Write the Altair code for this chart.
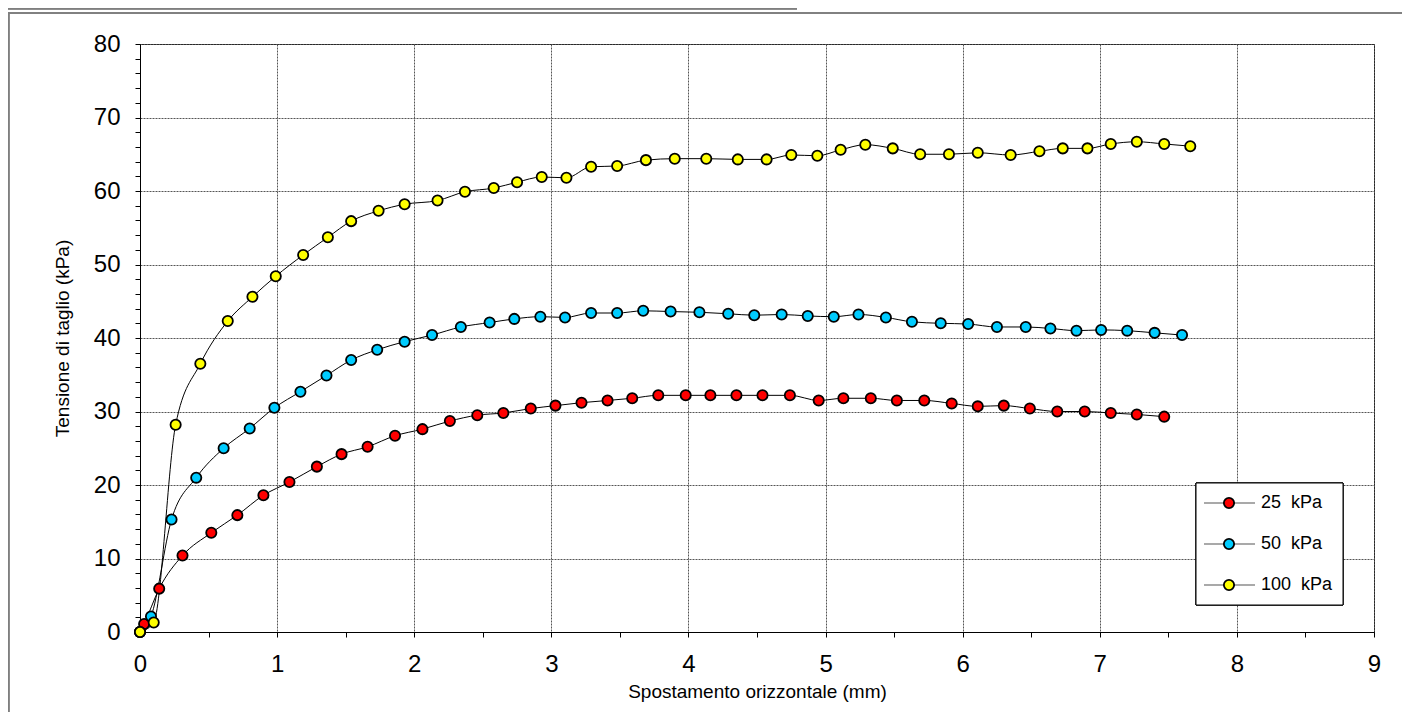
import altair as alt
import pandas as pd

# ---- data ----
series_names = ["25\u00a0 kPa", "50\u00a0 kPa", "100\u00a0 kPa"]
series_colors = ["#FF0000", "#00CCFF", "#FFFF00"]

x25 = [0.0, 0.03, 0.14, 0.31, 0.52, 0.71, 0.90, 1.09, 1.29, 1.47, 1.66, 1.86, 2.06, 2.26,
       2.46, 2.65, 2.85, 3.03, 3.22, 3.41, 3.59, 3.78, 3.98, 4.16, 4.35, 4.54, 4.74, 4.95,
       5.13, 5.33, 5.52, 5.72, 5.92, 6.11, 6.30, 6.49, 6.69, 6.89, 7.08, 7.27, 7.47]
y25 = [0.0, 1.1, 5.9, 10.4, 13.5, 15.9, 18.6, 20.4, 22.5, 24.2, 25.2, 26.7, 27.6, 28.7,
       29.5, 29.8, 30.4, 30.8, 31.2, 31.5, 31.8, 32.2, 32.2, 32.2, 32.2, 32.2, 32.2, 31.5,
       31.8, 31.8, 31.5, 31.5, 31.1, 30.7, 30.8, 30.4, 30.0, 30.0, 29.8, 29.6, 29.3]

x50 = [0.0, 0.08, 0.23, 0.41, 0.61, 0.80, 0.98, 1.17, 1.36, 1.54, 1.73, 1.93, 2.13, 2.34,
       2.55, 2.73, 2.92, 3.10, 3.29, 3.48, 3.67, 3.87, 4.08, 4.29, 4.48, 4.68, 4.87, 5.06,
       5.24, 5.44, 5.63, 5.84, 6.04, 6.25, 6.46, 6.64, 6.83, 7.01, 7.20, 7.40, 7.60]
y50 = [0.0, 2.1, 15.3, 21.0, 25.0, 27.7, 30.5, 32.7, 34.9, 37.0, 38.4, 39.5, 40.4, 41.5,
       42.1, 42.6, 42.9, 42.8, 43.4, 43.4, 43.7, 43.6, 43.5, 43.3, 43.1, 43.2, 43.0, 42.9,
       43.2, 42.8, 42.2, 42.0, 41.9, 41.5, 41.5, 41.3, 41.0, 41.1, 41.0, 40.7, 40.4]

x100 = [0.0, 0.10, 0.26, 0.44, 0.64, 0.82, 0.99, 1.19, 1.37, 1.54, 1.74, 1.93, 2.17, 2.37,
        2.58, 2.75, 2.93, 3.11, 3.29, 3.48, 3.69, 3.90, 4.13, 4.36, 4.57, 4.75, 4.94, 5.11,
        5.29, 5.49, 5.69, 5.90, 6.11, 6.35, 6.56, 6.73, 6.91, 7.08, 7.27, 7.47, 7.66]
y100 = [0.0, 1.3, 28.2, 36.5, 42.3, 45.6, 48.4, 51.3, 53.7, 55.9, 57.3, 58.2, 58.7, 59.9,
        60.4, 61.2, 61.9, 61.8, 63.3, 63.4, 64.2, 64.4, 64.4, 64.3, 64.3, 64.9, 64.8, 65.6,
        66.3, 65.8, 65.0, 65.0, 65.2, 64.9, 65.4, 65.8, 65.8, 66.4, 66.7, 66.4, 66.1]

x_ticks = [i * 0.5 for i in range(19)]
y_ticks = list(range(0, 81, 2))

x_title = "Spostamento orizzontale (mm)"
y_title = "Tensione di taglio (kPa)"

FONT = "Liberation Sans"

rows = []
for name, xs, ys in zip(series_names, [x25, x50, x100], [y25, y50, y100]):
    for i, (a, b) in enumerate(zip(xs, ys)):
        rows.append({"series": name, "x": a, "y": b, "idx": i})
df = pd.DataFrame(rows)

fill_scale = alt.Scale(domain=series_names, range=series_colors)

x_enc = alt.X(
    "x:Q",
    scale=alt.Scale(domain=[0, 9], nice=False, zero=False),
    axis=alt.Axis(
        values=x_ticks,
        labelExpr="datum.value % 1 === 0 ? '' + datum.value : ''",
        labelFlush=False,
        gridOpacity={"condition": {"test": "datum.value % 1 === 0", "value": 1}, "value": 0},
        title=x_title,
    ),
)
y_enc = alt.Y(
    "y:Q",
    scale=alt.Scale(domain=[0, 80], nice=False),
    axis=alt.Axis(
        values=y_ticks,
        labelExpr="datum.value % 10 === 0 ? '' + datum.value : ''",
        labelFlush=False,
        gridOpacity={"condition": {"test": "datum.value % 10 === 0", "value": 1}, "value": 0},
        title=y_title,
    ),
)

base = alt.Chart(df)
lines = base.mark_line(interpolate="monotone", color="black", strokeWidth=1).encode(
    x=x_enc, y=y_enc, detail="series:N", order="idx:Q"
)
points = base.mark_point(filled=True, shape="circle", size=105, stroke="black",
                         strokeWidth=1.8, opacity=1).encode(
    x=x_enc, y=y_enc,
    fill=alt.Fill("series:N", scale=fill_scale, legend=None),
)
main = alt.layer(lines, points)

# ---- legend (custom, Excel style) ----
legend_df = pd.DataFrame({"series": series_names})
leg_y = alt.Y("series:N", sort=series_names,
              scale=alt.Scale(type="point", range=[459, 541], padding=0), axis=None)
lbase = alt.Chart(legend_df)
leg_box = lbase.mark_rect(fill="white", stroke="black", strokeWidth=1).encode(
    x=alt.value(1056), x2=alt.value(1203), y=alt.value(439), y2=alt.value(561)
)
leg_rule = lbase.mark_rule(color="#555555", strokeWidth=1.2).encode(
    x=alt.value(1064), x2=alt.value(1115), y=leg_y
)
leg_pt = lbase.mark_point(filled=True, shape="circle", size=105, stroke="black",
                          strokeWidth=1.8, opacity=1).encode(
    x=alt.value(1089), y=leg_y,
    fill=alt.Fill("series:N", scale=fill_scale, legend=None),
)
leg_txt = lbase.mark_text(align="left", baseline="middle", font=FONT, fontSize=18,
                          color="black").encode(
    x=alt.value(1121), y=leg_y, text="series:N"
)
# outer chart-area frame (only its top and left edges fall inside the picture),
# drawn as thin filled bands
frame_top = lbase.mark_rect(fill="#7f7f7f", strokeWidth=0).encode(
    x=alt.value(-132), x2=alt.value(1262), y=alt.value(-31.75), y2=alt.value(-30.25)
)
frame_left = lbase.mark_rect(fill="#7f7f7f", strokeWidth=0).encode(
    x=alt.value(-132), x2=alt.value(-130.5), y=alt.value(-31.75), y2=alt.value(690)
)
top_line = lbase.mark_rect(fill="#7f7f7f", strokeWidth=0).encode(
    x=alt.value(-132), x2=alt.value(657), y=alt.value(-36), y2=alt.value(-34.5)
)
legend = alt.layer(frame_top, frame_left, top_line, leg_box, leg_rule, leg_pt, leg_txt)

chart = alt.layer(main, legend).resolve_scale(y="independent").properties(
    width=1234,
    height=588,
    autosize=alt.AutoSizeParams(type="none"),
    padding={"left": 132, "top": 36, "right": 28, "bottom": 80},
).configure_view(stroke="black", strokeWidth=1).configure_axis(
    labelFont=FONT, titleFont=FONT, labelColor="black", titleColor="black",
    labelFontSize=24, titleFontSize=19, titleFontWeight="normal",
    domainColor="black", domainWidth=1, tickColor="black", tickSize=5, tickWidth=1,
    gridColor="#555555", gridDash=[2, 1], gridWidth=1,
).configure_axisX(labelPadding=15, titlePadding=6).configure_axisY(
    labelPadding=15, titlePadding=21
)

chart.save("out.html", embed_options={"renderer": "svg", "actions": False})
